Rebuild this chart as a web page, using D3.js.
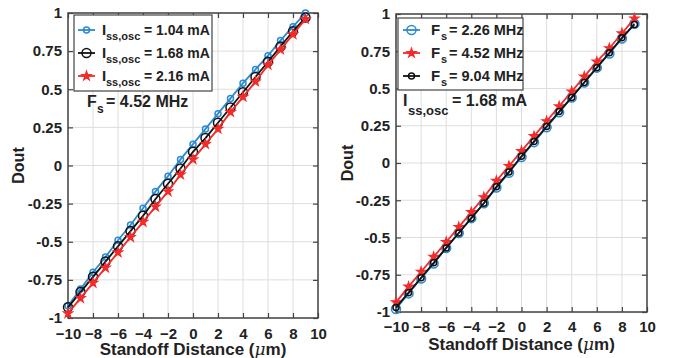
<!DOCTYPE html>
<html><head><meta charset="utf-8">
<script src="https://cdn.jsdelivr.net/npm/d3@7"></script>
<style>
body{margin:0;background:#fff;}
svg text{font-family:"Liberation Sans",Arial,sans-serif;font-weight:bold;fill:#222;}
</style></head>
<body><svg id="c" width="673" height="358"></svg>
<script>
const xValues = [-10,-9,-8,-7,-6,-5,-4,-3,-2,-1,0,1,2,3,4,5,6,7,8,9];
// Left panel (Fs = 4.52 MHz)
const leftBlue  = [-0.92,-0.81,-0.70,-0.60,-0.49,-0.39,-0.28,-0.17,-0.07,0.04,0.14,0.24,0.34,0.44,0.54,0.63,0.72,0.82,0.91,1.00];
const leftBlack = [-0.93,-0.83,-0.73,-0.63,-0.53,-0.43,-0.33,-0.22,-0.12,-0.02,0.09,0.18,0.28,0.38,0.48,0.58,0.68,0.78,0.88,0.97];
const leftRed   = [-0.97,-0.87,-0.77,-0.67,-0.57,-0.47,-0.37,-0.27,-0.17,-0.06,0.04,0.14,0.24,0.35,0.45,0.55,0.66,0.76,0.86,0.96];
const leftLabels = ["1.04 mA","1.68 mA","2.16 mA"];
// Right panel (Iss,osc = 1.68 mA)
const rightBlue  = [-0.98,-0.875,-0.775,-0.675,-0.57,-0.47,-0.37,-0.27,-0.165,-0.065,0.04,0.14,0.24,0.34,0.44,0.54,0.64,0.735,0.835,0.935];
const rightRed   = [-0.935,-0.83,-0.73,-0.63,-0.53,-0.43,-0.33,-0.23,-0.12,-0.02,0.08,0.18,0.28,0.38,0.48,0.58,0.68,0.77,0.87,0.97];
const rightBlack = [-0.97,-0.87,-0.77,-0.67,-0.57,-0.47,-0.37,-0.27,-0.16,-0.06,0.045,0.145,0.245,0.345,0.44,0.54,0.64,0.74,0.84,0.93];
const rightLabels = ["2.26 MHz","4.52 MHz","9.04 MHz"];
const xTicks = [-10,-8,-6,-4,-2,0,2,4,6,8,10];
const yTicks = [-1,-0.75,-0.5,-0.25,0,0.25,0.5,0.75,1];
const yTickLabels = ["-1","-0.75","-0.5","-0.25","0","0.25","0.5","0.75","1"];

const BLUE="#2b8ad0", RED="#f22b2b", BLACK="#111";
const svg = d3.select("#c");

function marker(g, type, color, x, y){
  if(type==="star"){
    g.append("path").attr("d", d3.symbol(d3.symbolStar, 26)()).attr("transform",`translate(${x},${y})`)
      .attr("fill",color).attr("stroke",color).attr("stroke-width",1.2);
  } else {
    const r = type==="big"?4.5:3;
    g.append("circle").attr("cx",x).attr("cy",y).attr("r",r).attr("fill","none").attr("stroke",color).attr("stroke-width",1.5);
  }
}

function panel(p){
  const x = d3.scaleLinear().domain([-10,10]).range([p.x0,p.x1]);
  const y = d3.scaleLinear().domain([-1,1]).range([p.y1,p.y0]);
  const g = svg.append("g");
  g.selectAll(".gx").data(xTicks).join("line").attr("x1",d=>x(d)).attr("x2",d=>x(d)).attr("y1",p.y0).attr("y2",p.y1).attr("stroke","#dedede").attr("stroke-width",1);
  g.selectAll(".gy").data(yTicks).join("line").attr("y1",d=>y(d)).attr("y2",d=>y(d)).attr("x1",p.x0).attr("x2",p.x1).attr("stroke","#dedede").attr("stroke-width",1);
  const ax = g.append("g").attr("transform",`translate(0,${p.y1})`).call(d3.axisBottom(x).tickValues(xTicks).tickSizeInner(-5).tickSizeOuter(0).tickPadding(p.xPad));
  const axT = g.append("g").attr("transform",`translate(0,${p.y0})`).call(d3.axisTop(x).tickValues(xTicks).tickSizeInner(-5).tickSizeOuter(0).tickFormat(""));
  const ay = g.append("g").attr("transform",`translate(${p.x0},0)`).call(d3.axisLeft(y).tickValues(yTicks).tickFormat((d,i)=>yTickLabels[i]).tickSizeInner(-5).tickSizeOuter(0).tickPadding(6));
  const ayR = g.append("g").attr("transform",`translate(${p.x1},0)`).call(d3.axisRight(y).tickValues(yTicks).tickSizeInner(-5).tickSizeOuter(0).tickFormat(""));
  [ax,axT,ay,ayR].forEach(a=>{a.selectAll("path").remove(); a.selectAll("line").attr("stroke","#444").attr("stroke-width",1.2);
    a.selectAll("text").style("font-size","15px").style("font-family","Liberation Sans, Arial, sans-serif").style("font-weight","bold").attr("fill","#222");});
  g.append("rect").attr("x",p.x0).attr("y",p.y0).attr("width",p.x1-p.x0).attr("height",p.y1-p.y0).attr("fill","none").attr("stroke","#444").attr("stroke-width",1.5);
  p.series.forEach(s=>{
    const line = d3.line().x((d,i)=>x(xValues[i])).y(d=>y(d));
    g.append("path").datum(s.values).attr("d",line).attr("fill","none").attr("stroke",s.color).attr("stroke-width",1.8);
    s.values.forEach((v,i)=>marker(g,s.marker,s.color,x(xValues[i]),y(v)));
  });
  const xl = g.append("text").attr("x",(p.x0+p.x1)/2).attr("y",p.xLabelY).attr("text-anchor","middle").style("font-size","17px");
  xl.append("tspan").text("Standoff Distance (");
  xl.append("tspan").text("\u03bc").style("font-style","italic").style("font-family","DejaVu Serif, serif").style("font-weight","normal");
  xl.append("tspan").text("m)");
  g.append("text").attr("transform",`translate(${p.yLabelX},${(p.y0+p.y1)/2}) rotate(-90)`).attr("text-anchor","middle").style("font-size","16px").text("Dout");
  return g;
}

function legendBox(g, bx, by, bw, bh){
  g.append("rect").attr("x",bx).attr("y",by).attr("width",bw).attr("height",bh).attr("fill","#fff").attr("stroke","#444").attr("stroke-width",1.2);
}

// Left panel
const gl = panel({x0:68,x1:318,y0:13,y1:318,xLabelY:355,yLabelX:24,xPad:10,
  series:[{values:leftBlue,color:BLUE,marker:"small"},{values:leftBlack,color:BLACK,marker:"big"},{values:leftRed,color:RED,marker:"star"}]});
legendBox(gl,74,15,138,76);
[[BLUE,"small"],[BLACK,"big"],[RED,"star"]].forEach((m,i)=>{
  const cy = 30 + i*23;
  gl.append("line").attr("x1",78).attr("x2",95).attr("y1",cy).attr("y2",cy).attr("stroke",m[0]).attr("stroke-width",1.8);
  marker(gl,m[1],m[0],86.5,cy);
  gl.append("text").attr("x",102).attr("y",cy+5).style("font-size","15px").text("I");
  gl.append("text").attr("x",106).attr("y",cy+10).style("font-size","11px").text("ss,osc");
  gl.append("text").attr("x",144).attr("y",cy+5).style("font-size","14px").text("= "+leftLabels[i]);
});
gl.append("text").attr("x",87).attr("y",107).style("font-size","16px").text("F");
gl.append("text").attr("x",97).attr("y",113).style("font-size","12px").text("s");
gl.append("text").attr("x",106).attr("y",107).style("font-size","16px").text("= 4.52 MHz");

// Right panel
const gr = panel({x0:396,x1:647,y0:14,y1:312,xLabelY:350,yLabelX:353,xPad:9,
  series:[{values:rightBlue,color:BLUE,marker:"big"},{values:rightRed,color:RED,marker:"star"},{values:rightBlack,color:BLACK,marker:"small"}]});
legendBox(gr,398,18,125,72);
[[BLUE,"big"],[RED,"star"],[BLACK,"small"]].forEach((m,i)=>{
  const cy = 30 + i*23;
  gr.append("line").attr("x1",403).attr("x2",420).attr("y1",cy).attr("y2",cy).attr("stroke",m[0]).attr("stroke-width",1.8);
  marker(gr,m[1],m[0],411.5,cy);
  gr.append("text").attr("x",431).attr("y",cy+5).style("font-size","15px").text("F");
  gr.append("text").attr("x",441).attr("y",cy+10).style("font-size","11px").text("s");
  gr.append("text").attr("x",449).attr("y",cy+5).style("font-size","14.5px").text("= "+rightLabels[i]);
});
gr.append("text").attr("x",403).attr("y",106).style("font-size","16px").text("I");
gr.append("text").attr("x",408).attr("y",115).style("font-size","13px").text("ss,osc");
gr.append("text").attr("x",452).attr("y",106).style("font-size","16px").text("= 1.68 mA");
</script></body></html>
